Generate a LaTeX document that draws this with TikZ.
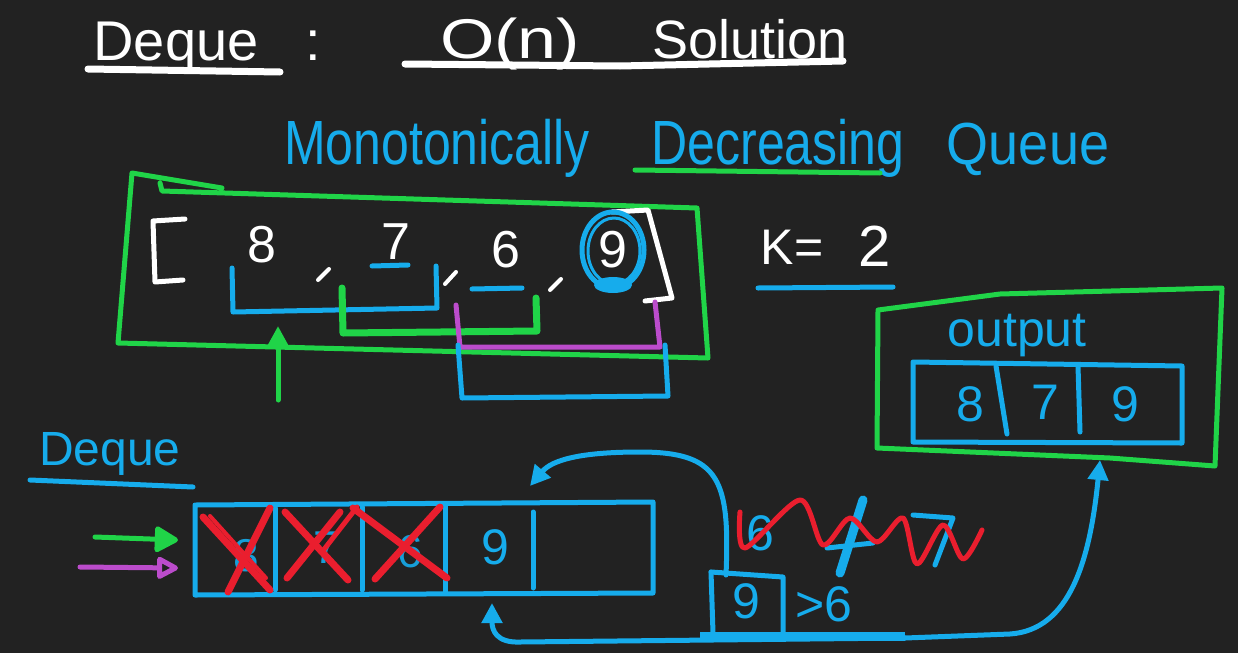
\documentclass[tikz,border=0pt]{standalone}
\usepackage{fontspec}
\setmainfont{Liberation Sans}
\usetikzlibrary{arrows.meta}
\definecolor{bg}{RGB}{34,34,34}
\definecolor{hb}{RGB}{22,172,236}
\definecolor{hg}{RGB}{32,212,72}
\definecolor{hp}{RGB}{188,76,204}
\definecolor{hr}{RGB}{234,30,46}
\begin{document}
\begin{tikzpicture}[x=1pt,y=-1pt,line cap=round,line join=round,
  pen/.style={line width=5pt},
  thickpen/.style={line width=7pt},
  fs/.style={font=\fontsize{#1}{#1}\selectfont},
  txt/.style={inner sep=0pt,outer sep=0pt},
  wt/.style={txt,text=white},
  bt/.style={txt,text=hb},
  tip/.style={-{Triangle[length=20pt,width=20pt]}},
  bigtip/.style={-{Triangle[length=26pt,width=28pt,round]}},
  opentip/.style={-{Triangle[open,length=24pt,width=24pt,round]}}]
\fill[bg] (0,0) rectangle (1238,653);
\useasboundingbox (0,0) rectangle (1238,653);

% ---- title ----
\node[wt,fs=56,anchor=base] (tdeque) at (176,60) {Deque};
\node[wt,fs=56,anchor=base] (tcolon) at (313,60) {:};
\node[wt,fs=56,anchor=base] (ton) at (510,58) {\scalebox{1.25}[1]{O(n)}};
\node[wt,fs=54,anchor=base] (tsol) at (750,58) {Solution};
\draw[white,thickpen] (88,69) -- (280,72);
\draw[white,thickpen] (405,64) -- (620,66) -- (843,61);

% ---- subtitle ----
\node[bt,fs=50,anchor=base] (mono) at (437,164) {\scalebox{1}[1.25]{Monotonically}};
\node[bt,fs=50,anchor=base] (decr) at (778,164) {\scalebox{1}[1.25]{Decreasing}};
\node[bt,fs=54,anchor=base] (queue) at (1028,164) {\scalebox{1}[1.1]{Queue}};
\draw[hg,pen] (635,170) -- (880,173);

% ---- array with windows ----
\draw[hg,pen] (222,188) -- (132,173) -- (118,343) -- (708,358) -- (697,208) -- (162,191) -- (160,183);
\draw[white,pen] (185,219) -- (153,221) -- (155,282) -- (183,280);
\draw[white,pen] (612,212) -- (648,210) -- (672,298) -- (645,301);
\node[wt,fs=52] (a8) at (262,245) {8};
\node[wt,fs=52] (a7) at (396,242) {7};
\node[wt,fs=52] (a6) at (506,250) {6};
\node[wt,fs=52] (a9) at (613,250) {9};
\draw[white,line width=4pt] (318,280) -- (329,269);
\draw[white,line width=4pt] (445,284) -- (456,272);
\draw[white,line width=4pt] (550,290) -- (561,279);
\draw[hb,pen] (a9) ellipse [x radius=31pt,y radius=38pt];
\draw[hb,line width=3pt] (614,251) ellipse [x radius=26pt,y radius=33pt];
\fill[hb] (613,285) ellipse [x radius=19pt,y radius=8pt];
\draw[hb,pen] (372,266) -- (408,265);
\draw[hb,pen] (472,289) -- (522,288);
% window brackets
\draw[hb,pen] (232,268) -- (233,312) -- (437,308) -- (436,266);
\draw[hg,thickpen] (342,288) -- (343,333) -- (537,331) -- (536,298);
\draw[hp,pen] (456,305) -- (460,347) -- (660,347) -- (655,302);
\draw[hb,pen] (458,345) -- (462,398) -- (668,396) -- (665,345);
\coordinate (gstart) at (278,400);
\coordinate (gend) at (278,326);
\draw[hg,pen,tip] (gstart) -- (gend);

% ---- k = 2 ----
\node[wt,fs=50,anchor=base] (keq) at (792,264) {K=};
\node[wt,fs=58,anchor=base] (ktwo) at (875,266) {2};
\draw[hb,pen] (758,288) -- (893,287);

% ---- output ----
\draw[hg,pen] (878,310) -- (1000,294) -- (1222,288) -- (1215,466) -- (1110,458) -- (877,448) -- cycle;
\node[bt,fs=50,anchor=base] (outlbl) at (1017,346) {output};
\draw[hb,pen] (913,362) -- (1182,366) -- (1182,443) -- (913,442) -- cycle;
\draw[hb,pen] (996,366) -- (1007,434);
\draw[hb,pen] (1078,366) -- (1080,432);
\node[bt,fs=50] (o8) at (970,404) {8};
\node[bt,fs=50] (o7) at (1045,402) {7};
\node[bt,fs=50] (o9) at (1125,404) {9};
\coordinate (outin) at (1100,460);

% ---- deque ----
\node[bt,fs=48,anchor=base] (dlbl) at (110,465) {Deque};
\draw[hb,pen] (30,480) -- (193,487);
\draw[hb,pen] (195,505) -- (653,502) -- (653,593) -- (195,595) -- cycle;
\foreach \x/\a/\b in {275/508/590, 362/507/590, 445/505/592, 533/512/588}
  \draw[hb,pen] (\x,\a) -- (\x,\b);
\node[bt,fs=46,opacity=0.9] (c8) at (246,556) {8};
\node[bt,fs=46,opacity=0.9] (c7) at (326,548) {7};
\node[bt,fs=46,opacity=0.9] (c6) at (410,552) {6};
\node[bt,fs=50] (c9) at (495,547) {9};
% red crosses
\draw[hr,thickpen] (203,517) -- (270,590);
\draw[hr,line width=4pt] (210,516) -- (266,578);
\draw[hr,thickpen] (270,508) -- (228,592);
\draw[hr,thickpen] (285,512) -- (348,580);
\draw[hr,thickpen] (340,512) -- (287,578);
\draw[hr,pen] (322,552) -- (357,507);
\draw[hr,thickpen] (353,508) -- (447,578);
\draw[hr,thickpen] (440,507) -- (375,579);
% incoming arrows
\coordinate (ga) at (95,537);
\coordinate (gb) at (178,540);
\coordinate (pa) at (80,567);
\coordinate (pb) at (178,568);
\draw[hg,pen,bigtip] (ga) -- (gb);
\draw[hp,pen,opentip] (pa) -- (pb);

% ---- comparison ----
\draw[hb,pen] (711,572) -- (783,577) -- (783,633);
\draw[hb,pen] (711,572) -- (713,633);
\node[bt,fs=50] (s9) at (746,601) {9};
\node[bt,fs=50,anchor=west] (gt6) at (795,604) {>6};
\coordinate (back) at (530,486);
\draw[hb,pen,tip] (726,575) .. controls (730,480) and (720,452) .. (640,452)
   .. controls (580,452) and (552,460) .. (back);
\fill[hb] (700,632) rectangle (905,641);
\coordinate (upin) at (492,603);
\draw[hb,pen,tip] (905,638) -- (520,642) .. controls (496,643) and (492,630) .. (upin);
\draw[hb,pen,tip] (905,638) -- (1010,634) .. controls (1070,630) and (1090,560) .. (outin);

% scribble
\node[bt,fs=50] (x6) at (760,533) {6};
\draw[hb,line width=9pt] (863,500) -- (840,573);
\draw[hb,pen] (827,548) -- (873,543);
\draw[hb,pen] (913,515) -- (953,518) -- (935,565);
\draw[hr,pen] plot[smooth,tension=0.5] coordinates {(740,512) (745,548) (800,500) (823,545) (850,518) (877,542) (903,518) (917,564) (943,525) (963,559) (982,530)};
\end{tikzpicture}
\end{document}
